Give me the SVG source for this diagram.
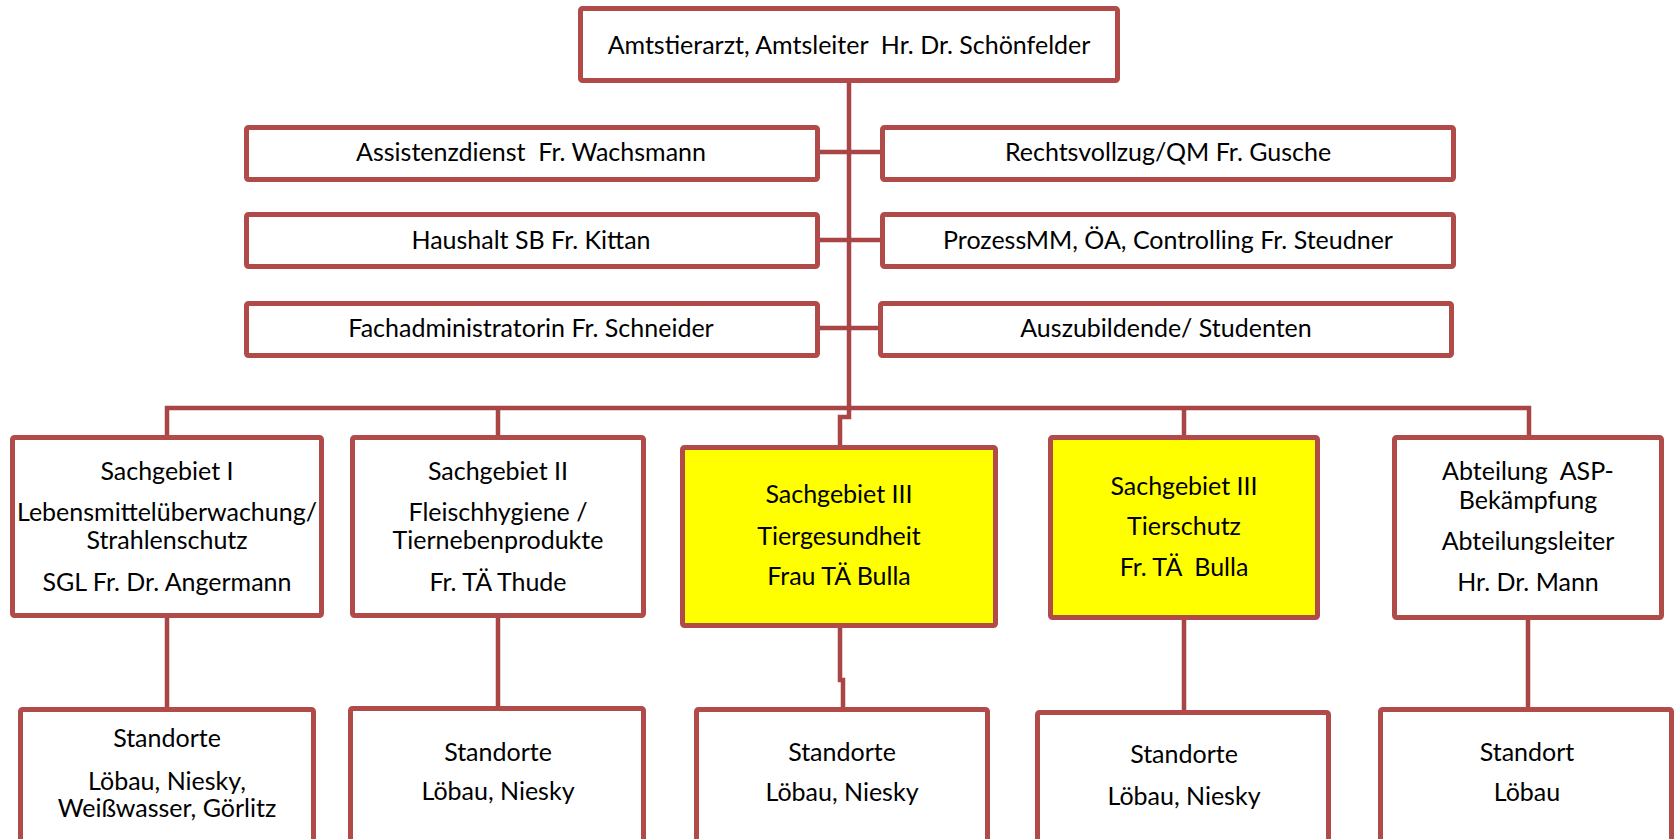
<svg xmlns="http://www.w3.org/2000/svg" width="1677" height="839" viewBox="0 0 1677 839">
<style>
.box{fill:#FFFFFF;stroke:#B04B49;stroke-width:5}
.yel{fill:#FFFF00;stroke:#B04B49;stroke-width:5}
.ln{fill:none;stroke:#A94544;stroke-width:4.5;stroke-linejoin:miter}
text{font-family:Lato,"Open Sans","Liberation Sans",sans-serif;font-size:25px;fill:#000;text-anchor:middle;white-space:pre}
</style>
<rect width="1677" height="839" fill="#FFFFFF"/>
<g id="connectors">
<path class="ln" d="M849,83 V417 H840 V445"/>
<path class="ln" d="M819,152 H881 M819,240 H881 M819,328 H881"/>
<path class="ln" d="M167,435 V408 H1529 V435 M498,408 V435 M1184,408 V435"/>
<path class="ln" d="M167,618 V707 M498,618 V706 M840,628 V680 H843 V707 M1184,620 V710 M1528,620 V707"/>
</g>
<g id="n-top"><rect class="box" x="580.5" y="8.5" width="537" height="72" rx="2"/><text x="849" y="54" xml:space="preserve">Amtstierarzt, Amtsleiter  Hr. Dr. Schönfelder</text></g>
<g id="n-assist"><rect class="box" x="246.5" y="127.5" width="571" height="52" rx="2"/><text x="531" y="161" xml:space="preserve">Assistenzdienst  Fr. Wachsmann</text></g>
<g id="n-haushalt"><rect class="box" x="246.5" y="214.5" width="571" height="52" rx="2"/><text x="531" y="249">Haushalt SB Fr. Kittan</text></g>
<g id="n-fachadmin"><rect class="box" x="246.5" y="303.5" width="571" height="52" rx="2"/><text x="531" y="337">Fachadministratorin Fr. Schneider</text></g>
<g id="n-recht"><rect class="box" x="882.5" y="127.5" width="571" height="52" rx="2"/><text x="1168" y="161">Rechtsvollzug/QM Fr. Gusche</text></g>
<g id="n-prozess"><rect class="box" x="882.5" y="214.5" width="571" height="52" rx="2"/><text x="1168" y="249">ProzessMM, ÖA, Controlling Fr. Steudner</text></g>
<g id="n-azubi"><rect class="box" x="880.5" y="303.5" width="571" height="52" rx="2"/><text x="1166" y="337">Auszubildende/ Studenten</text></g>
<g id="n-sg1"><rect class="box" x="12.5" y="437.5" width="309" height="178" rx="2"/>
<text x="167" y="480">Sachgebiet I</text><text x="167" y="521">Lebensmittelüberwachung/</text><text x="167" y="549">Strahlenschutz</text><text x="167" y="591">SGL Fr. Dr. Angermann</text></g>
<g id="n-sg2"><rect class="box" x="352.5" y="437.5" width="291" height="178" rx="2"/>
<text x="498" y="480">Sachgebiet II</text><text x="498" y="521">Fleischhygiene /</text><text x="498" y="549">Tiernebenprodukte</text><text x="498" y="591">Fr. TÄ Thude</text></g>
<g id="n-sg3a"><rect class="yel" x="682.5" y="447.5" width="313" height="178" rx="2"/>
<text x="839" y="503">Sachgebiet III</text><text x="839" y="545">Tiergesundheit</text><text x="839" y="585">Frau TÄ Bulla</text></g>
<g id="n-sg3b"><rect class="yel" x="1050.5" y="437.5" width="267" height="180" rx="2"/>
<text x="1184" y="495">Sachgebiet III</text><text x="1184" y="535">Tierschutz</text><text x="1184" y="576" xml:space="preserve">Fr. TÄ  Bulla</text></g>
<g id="n-asp"><rect class="box" x="1394.5" y="437.5" width="267" height="180" rx="2"/>
<text x="1528" y="480" xml:space="preserve">Abteilung  ASP-</text><text x="1528" y="509">Bekämpfung</text><text x="1528" y="550">Abteilungsleiter</text><text x="1528" y="591">Hr. Dr. Mann</text></g>
<g id="n-st1"><rect class="box" x="20.5" y="709.5" width="293" height="160" rx="2"/>
<text x="167" y="747">Standorte</text><text x="167" y="790">Löbau, Niesky,</text><text x="167" y="817">Weißwasser, Görlitz</text></g>
<g id="n-st2"><rect class="box" x="350.5" y="708.5" width="293" height="160" rx="2"/>
<text x="498" y="761">Standorte</text><text x="498" y="800">Löbau, Niesky</text></g>
<g id="n-st3"><rect class="box" x="696.5" y="709.5" width="291" height="160" rx="2"/>
<text x="842" y="761">Standorte</text><text x="842" y="801">Löbau, Niesky</text></g>
<g id="n-st4"><rect class="box" x="1037.5" y="712.5" width="291" height="160" rx="2"/>
<text x="1184" y="763">Standorte</text><text x="1184" y="805">Löbau, Niesky</text></g>
<g id="n-st5"><rect class="box" x="1380.5" y="709.5" width="291" height="160" rx="2"/>
<text x="1527" y="761">Standort</text><text x="1527" y="801">Löbau</text></g>
</svg>
